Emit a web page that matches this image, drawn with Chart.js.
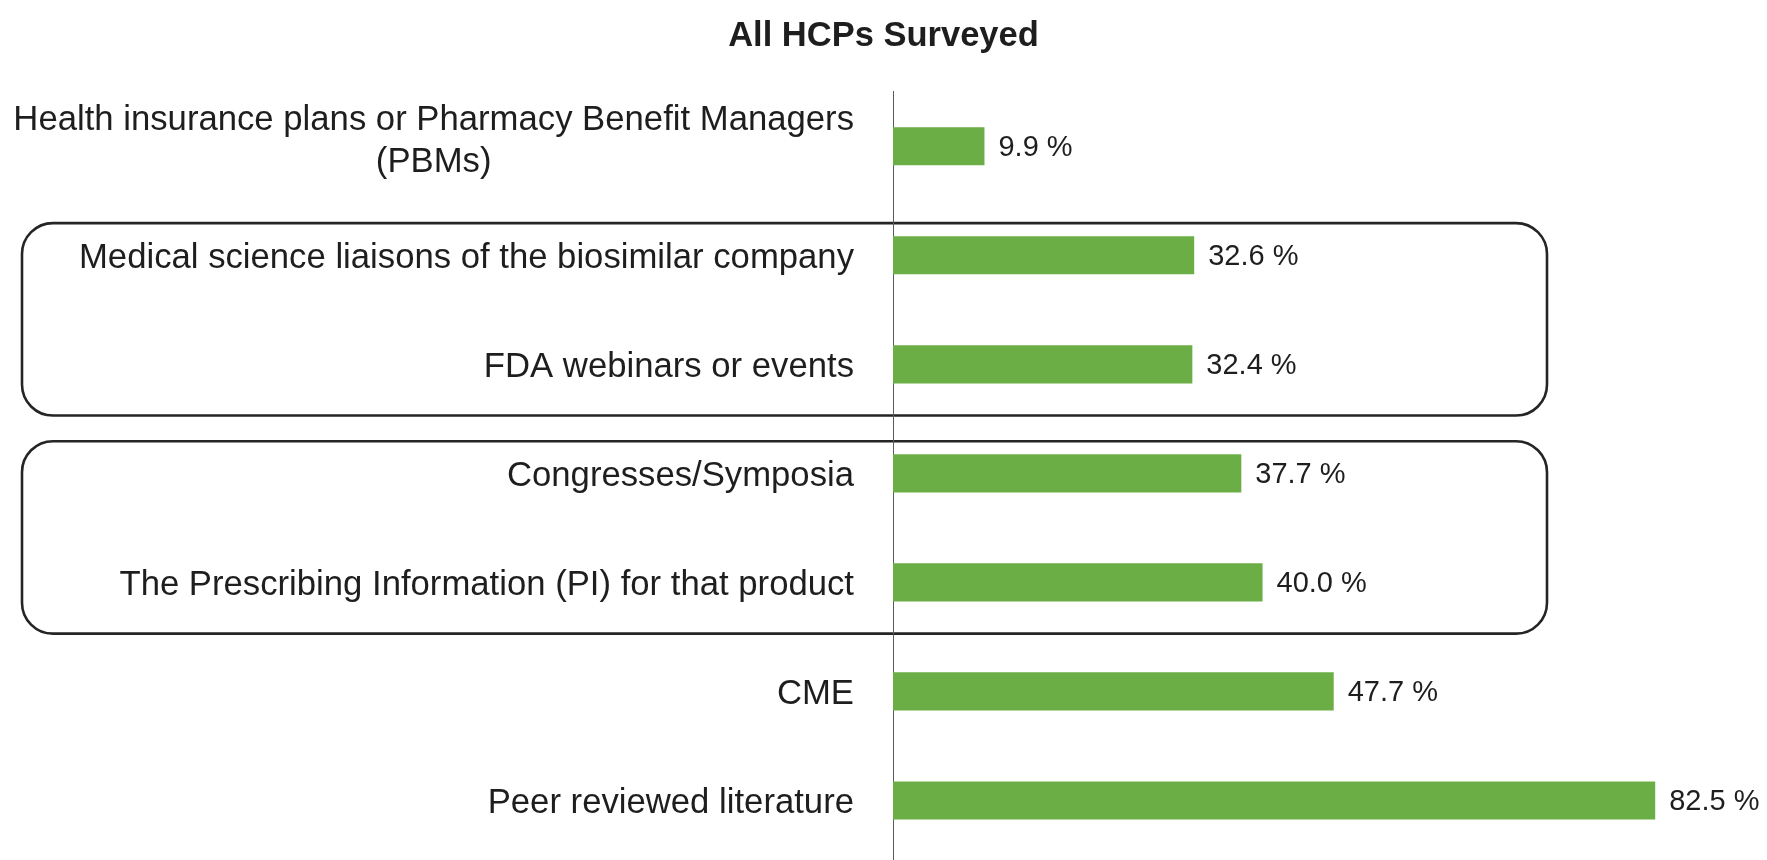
<!DOCTYPE html>
<html>
<head>
<meta charset="utf-8">
<script src="https://cdn.jsdelivr.net/npm/chart.js@4/dist/chart.umd.min.js"></script>
<style>
html,body{margin:0;padding:0;background:#ffffff;}
#wrap{width:1767px;height:860px;position:relative;}
</style>
</head>
<body>
<div id="wrap"><canvas id="c"></canvas></div>
<script>
// ---- data ----
const categories = [
  ["Health insurance plans or Pharmacy Benefit Managers", "(PBMs)"],
  "Medical science liaisons of the biosimilar company",
  "FDA webinars or events",
  "Congresses/Symposia",
  "The Prescribing Information (PI) for that product",
  "CME",
  "Peer reviewed literature"
];
const percentValues = [9.9, 32.6, 32.4, 37.7, 40.0, 47.7, 82.5];
const chartTitle = "All HCPs Surveyed";
const boxedGroups = [[1, 2], [3, 4]];

// ---- styling ----
const FONT = '"Liberation Sans", Arial, Helvetica, sans-serif';
const TEXT_COLOR = '#1e1e1e';
const BAR_COLOR = '#6aae45';
const AXIS_COLOR = '#5a5a5a';
const AXIS_X = 893;

const categoryLabelPlugin = {
  id: 'categoryLabels',
  afterDraw(chart) {
    const ctx = chart.ctx;
    const y = chart.scales.y;
    ctx.save();
    ctx.font = '34.7px ' + FONT;
    ctx.fillStyle = TEXT_COLOR;
    ctx.textBaseline = 'middle';
    ctx.textAlign = 'center';
    const rightEdge = chart.chartArea.left - 39;
    const lh = 42;
    categories.forEach((lab, i) => {
      const lines = Array.isArray(lab) ? lab : [lab];
      const widest = Math.max(...lines.map(l => ctx.measureText(l).width));
      const cx = rightEdge - widest / 2;
      const cy = y.getPixelForTick(i) + (lines.length > 1 ? -5 : 3);
      lines.forEach((l, k) => {
        ctx.fillText(l, cx, cy - (lines.length - 1) * lh / 2 + k * lh);
      });
    });
    // extend axis line to bottom edge
    ctx.strokeStyle = AXIS_COLOR;
    ctx.lineWidth = 1;
    ctx.beginPath();
    ctx.moveTo(chart.chartArea.left + 0.5, chart.chartArea.bottom);
    ctx.lineTo(chart.chartArea.left + 0.5, chart.height);
    ctx.stroke();
    ctx.restore();
  }
};

const valueLabelPlugin = {
  id: 'valueLabels',
  afterDatasetsDraw(chart) {
    const ctx = chart.ctx;
    const meta = chart.getDatasetMeta(0);
    ctx.save();
    ctx.font = '29px ' + FONT;
    ctx.fillStyle = TEXT_COLOR;
    ctx.textBaseline = 'middle';
    ctx.textAlign = 'left';
    meta.data.forEach((bar, i) => {
      ctx.fillText(percentValues[i].toFixed(1) + ' %', bar.x + 14, bar.y + 2);
    });
    ctx.restore();
  }
};

const groupBoxPlugin = {
  id: 'groupBoxes',
  beforeDraw(chart) {
    const ctx = chart.ctx;
    const y = chart.scales.y;
    const step = (chart.chartArea.bottom - chart.chartArea.top) / categories.length;
    ctx.save();
    ctx.strokeStyle = '#252525';
    ctx.lineWidth = 2.6;
    boxedGroups.forEach(g => {
      const top = y.getPixelForTick(g[0]) - 0.295 * step;
      const bottom = y.getPixelForTick(g[g.length - 1]) + 0.47 * step;
      const left = 22, right = 1547;
      ctx.beginPath();
      ctx.roundRect(left, top, right - left, bottom - top, 31);
      ctx.stroke();
    });
    ctx.restore();
  }
};

new Chart(document.getElementById('c'), {
  type: 'bar',
  data: {
    labels: categories,
    datasets: [{
      data: percentValues,
      backgroundColor: BAR_COLOR,
      borderWidth: 0,
      categoryPercentage: 1.0,
      barPercentage: 0.35
    }]
  },
  options: {
    indexAxis: 'y',
    responsive: true,
    maintainAspectRatio: false,
    animation: false,
    layout: { padding: { left: 0, right: 0, top: 0, bottom: 5 } },
    plugins: {
      legend: { display: false },
      tooltip: { enabled: false },
      title: {
        display: true,
        text: chartTitle,
        color: TEXT_COLOR,
        font: { family: FONT, size: 34.5, weight: 'bold' },
        padding: { top: 16, bottom: 34.3 }
      }
    },
    scales: {
      x: { display: false, min: 0, max: 94.6 },
      y: {
        grid: { display: false, drawTicks: false },
        border: { display: true, color: AXIS_COLOR, width: 1 },
        ticks: { display: false },
        afterFit(scale) { scale.width = AXIS_X; }
      }
    }
  },
  plugins: [groupBoxPlugin, valueLabelPlugin, categoryLabelPlugin]
});
</script>
</body>
</html>
